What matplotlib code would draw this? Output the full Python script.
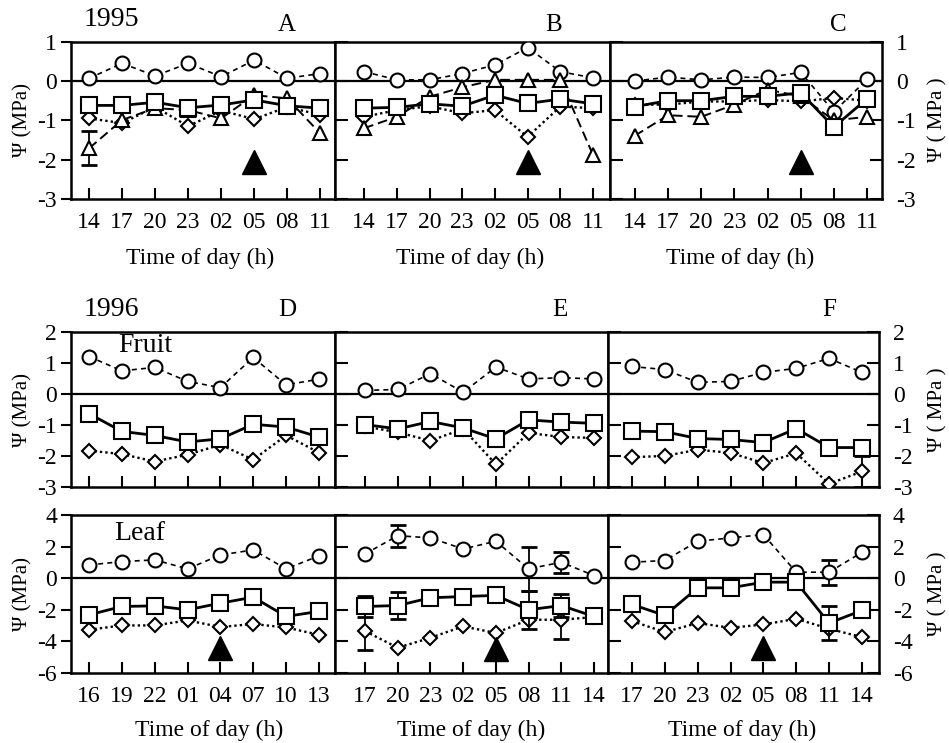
import matplotlib
matplotlib.use('Agg')
import matplotlib.pyplot as plt
import numpy as np

plt.rcParams['font.family'] = ['Liberation Serif', 'DejaVu Serif']

W, H = 949, 743

# ---------------- data ----------------
times_95 = ['14', '17', '20', '23', '02', '05', '08', '11']
times_96D = ['16', '19', '22', '01', '04', '07', '10', '13']
times_96EF = ['17', '20', '23', '02', '05', '08', '11', '14']

# 1995 panels (circle, square, diamond, triangle)
A_circle = [0.07, 0.45, 0.13, 0.45, 0.11, 0.53, 0.07, 0.19]
A_square = [-0.62, -0.62, -0.54, -0.68, -0.61, -0.48, -0.63, -0.69]
A_diamond = [-0.95, -1.07, -0.66, -1.15, -0.75, -0.97, -0.66, -0.86]
A_triangle = [-1.71, -0.99, -0.69, -0.74, -0.95, -0.36, -0.44, -1.33]
A_triangle_err = [0.43, 0, 0, 0, 0, 0, 0, 0]

B_circle = [0.24, 0.03, 0.03, 0.19, 0.41, 0.85, 0.24, 0.08]
B_square = [-0.69, -0.67, -0.58, -0.64, -0.36, -0.57, -0.46, -0.58]
B_diamond = [-0.91, -0.74, -0.64, -0.82, -0.74, -1.42, -0.65, -0.69]
B_triangle = [-1.20, -0.91, -0.40, -0.16, 0.03, 0.03, 0.03, -1.88]

C_circle = [0.00, 0.10, 0.03, 0.10, 0.09, 0.22, -0.78, 0.04]
C_square = [-0.65, -0.50, -0.50, -0.39, -0.39, -0.30, -1.17, -0.45]
C_diamond = [-0.60, -0.60, -0.52, -0.52, -0.48, -0.52, -0.43, -0.50]
C_triangle = [-1.39, -0.87, -0.91, -0.60, -0.22, -0.39, -1.00, -0.91]

# 1996 fruit
D_circle = [1.20, 0.74, 0.85, 0.40, 0.20, 1.17, 0.29, 0.47]
D_square = [-0.64, -1.21, -1.34, -1.55, -1.45, -0.98, -1.07, -1.39]
D_diamond = [-1.83, -1.94, -2.18, -1.96, -1.64, -2.12, -1.34, -1.89]

E_circle = [0.11, 0.14, 0.65, 0.05, 0.86, 0.48, 0.52, 0.48]
E_square = [-0.99, -1.13, -0.89, -1.10, -1.45, -0.84, -0.91, -0.95]
E_diamond = [-1.05, -1.24, -1.51, -1.13, -2.27, -1.26, -1.39, -1.42]

F_circle = [0.88, 0.78, 0.37, 0.40, 0.69, 0.82, 1.14, 0.69]
F_square = [-1.20, -1.22, -1.44, -1.47, -1.57, -1.12, -1.73, -1.73]
F_diamond = [-2.04, -2.00, -1.80, -1.90, -2.23, -1.91, -2.90, -2.50]
F_diamond_err = [0, 0, 0, 0, 0, 0, 0, 0.5]

# 1996 leaf
DL_circle = [0.84, 1.05, 1.16, 0.59, 1.47, 1.79, 0.59, 1.41]
DL_square = [-2.32, -1.79, -1.75, -2.00, -1.58, -1.20, -2.42, -2.10]
DL_diamond = [-3.26, -2.99, -2.99, -2.67, -3.09, -2.90, -3.12, -3.58]

EL_circle = [1.54, 2.69, 2.55, 1.85, 2.34, 0.59, 1.01, 0.17]
EL_circle_err = [0, 0.70, 0, 0, 0, 1.40, 0.65, 0]
EL_square = [-1.79, -1.73, -1.24, -1.16, -1.09, -2.00, -1.73, -2.42]
EL_square_err = [0.68, 0.85, 0, 0, 0, 1.20, 0.73, 0]
EL_diamond = [-3.35, -4.40, -3.77, -3.05, -3.47, -2.63, -2.63, -2.46]
EL_diamond_err = [1.20, 0, 0, 0, 0, 0, 1.20, 0]

FL_circle = [1.01, 1.12, 2.34, 2.55, 2.76, 0.38, 0.38, 1.64]
FL_circle_err = [0, 0, 0, 0, 0, 0, 0.80, 0]
FL_square = [-1.66, -2.36, -0.61, -0.61, -0.25, -0.25, -2.84, -2.04]
FL_square_err = [0, 0, 0, 0, 0, 0, 1.10, 0]
FL_diamond = [-2.72, -3.41, -2.84, -3.14, -2.93, -2.57, -3.20, -3.73]

# filled-triangle event markers (time index, value)
A_event = (5, -2.05)
B_event = (5, -2.05)
C_event = (5, -2.05)
DL_event = (4, -4.4)
EL_event = (4, -4.5)
FL_event = (4, -4.4)

# ---------------- styles ----------------
styles = {
    'circle': dict(marker='o', ms=10, ls=(0, (3, 2.5)), lw=1.2),
    'square': dict(marker='s', ms=11.5, ls='-', lw=2.0),
    'diamond': dict(marker='D', ms=7, ls=(0, (1, 1.3)), lw=1.7),
    'triangle': dict(marker='^', ms=10, ls=(0, (5, 2.5)), lw=1.4),
}
zorders = {'circle': 3, 'diamond': 4, 'triangle': 5, 'square': 6}

TICK_FS = 17
fig = plt.figure(figsize=(W / 100, H / 100), dpi=100)


def px_axes(x0, x1, y0, y1):
    return fig.add_axes([x0 / W, 1 - y1 / H, (x1 - x0) / W, (y1 - y0) / H])


def series(ax, kind, vals, err=None):
    x = np.arange(len(vals))
    v = np.array(vals, dtype=float)
    st = styles[kind]
    ax.plot(x, v, color='black', marker=st['marker'], ms=st['ms'], mfc='white',
            mec='black', mew=1.5, ls=st['ls'], lw=st['lw'], zorder=zorders[kind])
    if err is not None:
        e = np.array(err, dtype=float)
        m = e > 0
        ax.errorbar(x[m], v[m], yerr=e[m], fmt='none', ecolor='black',
                    elinewidth=1.3, capsize=6, capthick=2.0, zorder=zorders[kind] - 0.5)


def setup(ax, xlim, ylim, yticks, labels, left_labels, right_labels, xlabels):
    ax.set_xlim(*xlim)
    ax.set_ylim(*ylim)
    ax.axhline(0, color='black', lw=1.6, zorder=2)
    for s in ax.spines.values():
        s.set_linewidth(1.8)
    ax.set_xticks(np.arange(8))
    if xlabels:
        ax.set_xticklabels(labels, fontsize=TICK_FS)
    else:
        ax.set_xticklabels([])
    ax.tick_params(axis='x', direction='in', length=8, width=1.5, pad=9)
    ax.set_yticks(yticks)
    ax.tick_params(axis='y', direction='in', length=9, width=1.5, left=True,
                   right=right_labels, labelleft=False, labelright=right_labels,
                   labelsize=TICK_FS, pad=10)
    if left_labels:
        ax.tick_params(axis='y', direction='out', length=7, labelleft=True, pad=3)
    ax.set_yticklabels([('%d' % t) for t in yticks])


def event(ax, ev):
    ax.plot([ev[0]], [ev[1]], marker='^', ms=17, color='black', ls='none', zorder=7)


# ---------- top row (1995) ----------
top = (41.7, 199)
axA = px_axes(71, 335, *top)
axB = px_axes(335, 610, *top)
axC = px_axes(610, 882, *top)
yt95 = [1, 0, -1, -2, -3]
setup(axA, (-0.55, 7.45), (-3, 1), yt95, times_95, True, False, True)
setup(axB, (-0.89, 7.52), (-3, 1), yt95, times_95, False, False, True)
setup(axC, (-0.75, 7.45), (-3, 1), yt95, times_95, False, True, True)

for ax, c, s, d, t, terr, ev in [
        (axA, A_circle, A_square, A_diamond, A_triangle, A_triangle_err, A_event),
        (axB, B_circle, B_square, B_diamond, B_triangle, None, B_event),
        (axC, C_circle, C_square, C_diamond, C_triangle, None, C_event)]:
    series(ax, 'circle', c)
    series(ax, 'diamond', d)
    series(ax, 'triangle', t, terr)
    series(ax, 'square', s)
    event(ax, ev)

# ---------- fruit row (1996) ----------
fr = (331.7, 487)
axD = px_axes(71, 335, *fr)
axE = px_axes(335, 608, *fr)
axF = px_axes(608, 879, *fr)
ytf = [2, 1, 0, -1, -2, -3]
setup(axD, (-0.55, 7.49), (-3, 2), ytf, times_96D, True, False, False)
setup(axE, (-0.92, 7.43), (-3, 2), ytf, times_96EF, False, False, False)
setup(axF, (-0.73, 7.52), (-3, 2), ytf, times_96EF, False, True, False)
for ax, c, s, d, derr in [(axD, D_circle, D_square, D_diamond, None),
                          (axE, E_circle, E_square, E_diamond, None),
                          (axF, F_circle, F_square, F_diamond, F_diamond_err)]:
    series(ax, 'circle', c)
    series(ax, 'diamond', d, derr)
    series(ax, 'square', s)

# ---------- leaf row (1996) ----------
lf = (515, 673)
axDL = px_axes(71, 335, *lf)
axEL = px_axes(335, 608, *lf)
axFL = px_axes(608, 879, *lf)
ytl = [4, 2, 0, -2, -4, -6]
setup(axDL, (-0.55, 7.49), (-6, 4), ytl, times_96D, True, False, True)
setup(axEL, (-0.92, 7.43), (-6, 4), ytl, times_96EF, False, False, True)
setup(axFL, (-0.73, 7.52), (-6, 4), ytl, times_96EF, False, True, True)
for ax, c, cerr, s, serr, d, derr, ev in [
        (axDL, DL_circle, None, DL_square, None, DL_diamond, None, DL_event),
        (axEL, EL_circle, EL_circle_err, EL_square, EL_square_err, EL_diamond, EL_diamond_err, EL_event),
        (axFL, FL_circle, FL_circle_err, FL_square, FL_square_err, FL_diamond, None, FL_event)]:
    series(ax, 'circle', c, cerr)
    series(ax, 'diamond', d, derr)
    series(ax, 'square', s, serr)
    event(ax, ev)

# ---------- texts ----------
def ftext(x, y, s, **kw):
    fig.text(x / W, 1 - y / H, s, **kw)

ftext(111, 20, '1995', fontsize=20, ha='center', va='center')
ftext(111, 310, '1996', fontsize=20, ha='center', va='center')
for lab, x, y in [('A', 287, 25), ('B', 554, 25), ('C', 838, 25),
                  ('D', 287, 310), ('E', 560, 310), ('F', 829, 310)]:
    ftext(x, y, lab, fontsize=18, ha='center', va='center')
ftext(145, 345, 'Fruit', fontsize=20, ha='center', va='center')
ftext(140, 533, 'Leaf', fontsize=20, ha='center', va='center')

for x in (200, 470, 740):
    ftext(x, 258, 'Time of day (h)', fontsize=17, ha='center', va='center')
for x in (209, 471, 742):
    ftext(x, 730, 'Time of day (h)', fontsize=17, ha='center', va='center')

for y in (120, 410, 594):
    ftext(23, y, 'Ψ (MPa)', fontsize=15, ha='center', va='center', rotation=90)
    ftext(938, y, 'Ψ ( MPa )', fontsize=15, ha='center', va='center', rotation=90)

fig.savefig('out.png', dpi=100)
